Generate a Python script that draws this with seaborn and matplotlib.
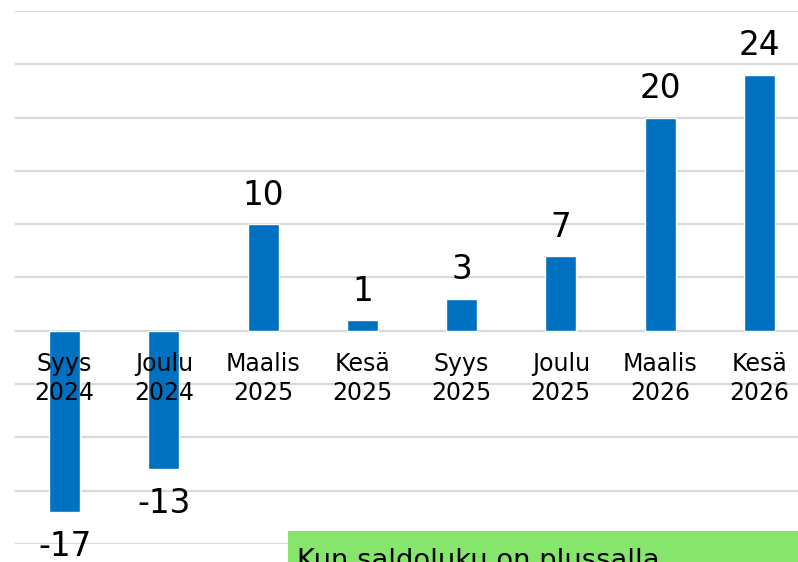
import seaborn as sns
import matplotlib.pyplot as plt
import pandas as pd

periods = ['Syys\n2024', 'Joulu\n2024', 'Maalis\n2025', 'Kesä\n2025',
           'Syys\n2025', 'Joulu\n2025', 'Maalis\n2026', 'Kesä\n2026']
saldo = [-17, -13, 10, 1, 3, 7, 20, 24]
yticks = [-20, -15, -10, -5, 0, 5, 10, 15, 20, 25, 30]
note = 'Kun saldoluku on plussalla'

df = pd.DataFrame({'period': periods, 'saldo': saldo})

sns.set_style('white')
plt.rcParams['font.family'] = ['DejaVu Sans']
plt.rcParams['text.color'] = 'black'

fig = plt.figure(figsize=(7.98, 5.62), dpi=100)
ax = fig.add_axes([15 / 798, 18 / 562, 794 / 798, 533 / 562])

sns.barplot(data=df, x='period', y='saldo', color='#0070C0', saturation=1,
            width=0.31, ax=ax, zorder=2)

ax.set_ylim(-20, 30)
ax.set_xlim(-0.5, 7.5)
ax.set_yticks(yticks)
ax.set_yticklabels([])
ax.tick_params(axis='y', length=0)
ax.grid(axis='y', color='#d9d9d9', linewidth=1.6)
ax.set_axisbelow(True)
for s in ax.spines.values():
    s.set_visible(False)
ax.set_xticks([])
ax.set_xlabel('')
ax.set_ylabel('')

# category labels sit just under the zero line, drawn over the bars
for i, p in enumerate(periods):
    ax.annotate(p, (i, 0), xytext=(0, -15.5), textcoords='offset points',
                ha='center', va='top', fontsize=17, linespacing=1.25,
                color='black', zorder=5)

for i, v in enumerate(saldo):
    if v >= 0:
        ax.annotate(str(v), (i, v), xytext=(0, 9), textcoords='offset points',
                    ha='center', va='bottom', fontsize=23.5, color='black')
    else:
        ax.annotate(str(v), (i, v), xytext=(0, -13), textcoords='offset points',
                    ha='center', va='top', fontsize=23.5, color='black')

fig.patches.append(plt.Rectangle((288 / 798, 0), 520 / 798, 31 / 562,
                                 transform=fig.transFigure, facecolor='#85E66B',
                                 edgecolor='none', zorder=5))
fig.text(297 / 798, -6 / 562, note, fontsize=19.7, ha='left', va='baseline',
         color='black', zorder=6)

fig.savefig('out.png', dpi=100)
